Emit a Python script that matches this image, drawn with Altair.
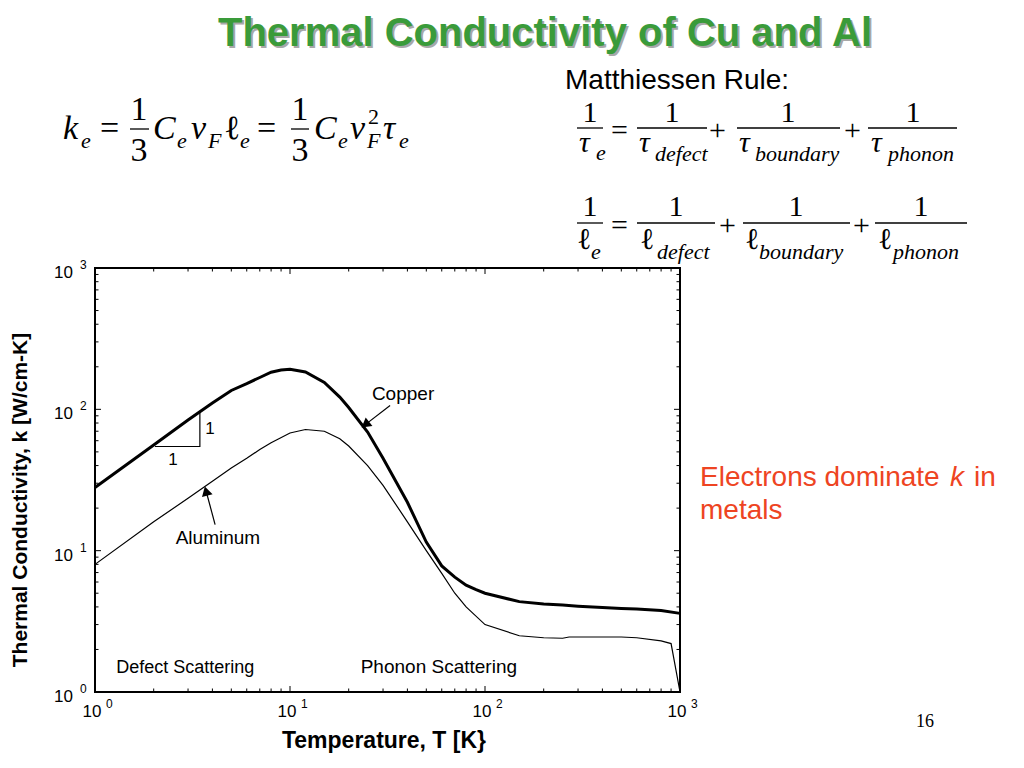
import altair as alt
import pandas as pd

# ---------------- data ----------------
T_cu = [1, 2, 3, 4, 5, 6, 7, 8, 9, 10, 12, 15, 18, 20, 25, 30, 40, 50, 60, 70, 80, 90,
        100, 150, 200, 250, 300, 400, 500, 600, 800, 1000]
k_cu = [28, 56, 84, 111, 136, 152, 168, 183, 190, 192, 184, 155, 122, 103, 69, 45, 22, 11.5,
        7.8, 6.5, 5.7, 5.3, 5.0, 4.36, 4.2, 4.12, 4.05, 3.96, 3.9, 3.87, 3.77, 3.6]

T_al = [1, 2, 3, 4, 5, 6, 7, 8, 10, 12, 15, 18, 20, 25, 30, 40, 50, 60, 70, 80, 100, 150,
        200, 250, 270, 300, 400, 500, 600, 800, 900, 1000]
k_al = [8.0, 16, 23.5, 31, 38.5, 45, 52, 58, 68, 72, 70, 62, 55, 40, 29, 16, 10, 6.9, 5.0,
        4.0, 3.0, 2.5, 2.42, 2.4, 2.45, 2.45, 2.45, 2.45, 2.42, 2.3, 2.2, 1.0]

major_vals = [1, 10, 100, 1000]
minor_vals = [m * d for d in (1, 10, 100) for m in range(2, 10)]
tick_exp = ["0", "1", "2", "3"]

# ---------------- layout helpers ----------------
W, H = 585, 424
OX, OY = 95, 268  # page position of plot origin
SERIF = "Liberation Serif"
SANS = "Liberation Sans"

xs = alt.Scale(type="log", domain=[1, 1000], nice=False)
ys = alt.Scale(type="log", domain=[1, 1000], nice=False)

blank = pd.DataFrame({"a": [0]})
layers = []


def ptext(s, x, y, size, font=SERIF, style="normal", weight="normal", color="black",
          align="left", baseline="alphabetic", angle=0):
    kw = dict(text=s, font=font, fontSize=size, fontStyle=style, fontWeight=weight,
              color=color, align=align, baseline=baseline)
    if angle:
        kw["angle"] = angle
    layers.append(alt.Chart(blank).mark_text(**kw).encode(
        x=alt.value(x - OX), y=alt.value(y - OY)))


def pbar(x1, x2, y, w=1.3):
    layers.append(alt.Chart(blank).mark_rule(color="black", strokeWidth=w).encode(
        x=alt.value(x1 - OX), x2=alt.value(x2 - OX), y=alt.value(y - OY)))


# ---------------- data lines ----------------
df_cu = pd.DataFrame({"T": T_cu, "k": k_cu})
df_al = pd.DataFrame({"T": T_al, "k": k_al})

layers.append(alt.Chart(df_cu).mark_line(color="black", strokeWidth=3).encode(
    x=alt.X("T:Q", scale=xs, axis=None), y=alt.Y("k:Q", scale=ys, axis=None)))
layers.append(alt.Chart(df_al).mark_line(color="black", strokeWidth=1.2).encode(
    x=alt.X("T:Q", scale=xs, axis=None), y=alt.Y("k:Q", scale=ys, axis=None)))

# ---------------- ticks (inside frame) ----------------
for vals, L in ((major_vals, 6), (minor_vals, 3.5)):
    d = pd.DataFrame({"v": vals})
    layers.append(alt.Chart(d).mark_rule(color="black", strokeWidth=1).encode(
        x=alt.X("v:Q", scale=xs, axis=None), y=alt.value(0), y2=alt.value(L)))
    layers.append(alt.Chart(d).mark_rule(color="black", strokeWidth=1).encode(
        x=alt.X("v:Q", scale=xs, axis=None), y=alt.value(H), y2=alt.value(H - L)))
    layers.append(alt.Chart(d).mark_rule(color="black", strokeWidth=1).encode(
        y=alt.Y("v:Q", scale=ys, axis=None), x=alt.value(0), x2=alt.value(L)))
    layers.append(alt.Chart(d).mark_rule(color="black", strokeWidth=1).encode(
        y=alt.Y("v:Q", scale=ys, axis=None), x=alt.value(W), x2=alt.value(W - L)))

# ---------------- tick labels ----------------
df_tl = pd.DataFrame({"v": major_vals, "e": tick_exp})
layers.append(alt.Chart(df_tl).mark_text(text="10", font=SANS, fontSize=17, align="center",
                                         baseline="alphabetic", dx=-3).encode(
    x=alt.X("v:Q", scale=xs, axis=None), y=alt.value(449)))
layers.append(alt.Chart(df_tl).mark_text(font=SANS, fontSize=12, align="left",
                                         baseline="alphabetic", dx=11).encode(
    x=alt.X("v:Q", scale=xs, axis=None), y=alt.value(440), text="e:N"))
layers.append(alt.Chart(df_tl).mark_text(text="10", font=SANS, fontSize=17, align="right",
                                         baseline="alphabetic", dy=10).encode(
    y=alt.Y("v:Q", scale=ys, axis=None), x=alt.value(-22)))
layers.append(alt.Chart(df_tl).mark_text(font=SANS, fontSize=12, align="left",
                                         baseline="alphabetic", dy=1).encode(
    y=alt.Y("v:Q", scale=ys, axis=None), x=alt.value(-15), text="e:N"))

# ---------------- axis titles ----------------
ptext("Thermal Conductivity, k  [W/cm-K]", 21, 500, 21, font=SANS, weight="bold",
      align="center", baseline="middle", angle=270)
ptext("Temperature, T [K}", 384, 741, 23, font=SANS, weight="bold",
      align="center", baseline="middle")

# ---------------- in-plot annotations ----------------
ann = pd.DataFrame({
    "label": ["Copper", "Aluminum", "Defect Scattering", "Phonon Scattering", "1", "1"],
    "T": [38, 4.27, 2.9, 58, 3.89, 2.51],
    "k": [128, 12.35, 1.48, 1.50, 72, 43.6],
    "size": [19, 19, 18, 19, 17, 17],
})
layers.append(alt.Chart(ann).mark_text(font=SANS, align="center", baseline="middle",
                                       color="black").encode(
    x=alt.X("T:Q", scale=xs, axis=None), y=alt.Y("k:Q", scale=ys, axis=None),
    text="label:N", size=alt.Size("size:Q", scale=None, legend=None)))

# slope-one triangle
tri = pd.DataFrame({"T": [2.03, 3.45, 3.45], "k": [54.6, 54.6, 96], "o": [0, 1, 2]})
layers.append(alt.Chart(tri).mark_line(color="black", strokeWidth=1.2).encode(
    x=alt.X("T:Q", scale=xs, axis=None), y=alt.Y("k:Q", scale=ys, axis=None), order="o:Q"))

# arrows
arr = pd.DataFrame({"id": ["cu", "cu", "al", "al"],
                    "T": [32.6, 24.7, 4.13, 3.73],
                    "k": [106.6, 79.2, 15.3, 25.8]})
layers.append(alt.Chart(arr).mark_line(color="black", strokeWidth=1.2).encode(
    x=alt.X("T:Q", scale=xs, axis=None), y=alt.Y("k:Q", scale=ys, axis=None),
    detail="id:N"))
heads = pd.DataFrame({"T": [24.7, 3.73], "k": [79.2, 25.8], "ang": [232, 345]})
layers.append(alt.Chart(heads).mark_point(shape="triangle", filled=True, color="black",
                                          opacity=1, size=120).encode(
    x=alt.X("T:Q", scale=xs, axis=None), y=alt.Y("k:Q", scale=ys, axis=None),
    angle=alt.Angle("ang:Q", scale=None)))

# ---------------- title ----------------
ptext("Thermal Conductivity of Cu and Al", 547, 48, 40, font=SANS, weight="bold",
      color="#a8a8a8", align="center")
ptext("Thermal Conductivity of Cu and Al", 545, 46, 40, font=SANS, weight="bold",
      color="#3a9b3a", align="center")

# ---------------- k_e equation ----------------
M, S = 34, 22
ptext("k", 63, 139, M, style="italic")
ptext("e", 81, 148, S, style="italic")
ptext("=", 100, 139, M)
ptext("1", 139, 120, M, align="center")
pbar(130, 149, 129)
ptext("3", 139, 161, M, align="center")
ptext("C", 153, 139, M, style="italic")
ptext("e", 177, 148, S, style="italic")
ptext("v", 191, 139, M, style="italic")
ptext("F", 208, 148, S, style="italic")
ptext("ℓ", 224, 139, M)
ptext("e", 240, 148, S, style="italic")
ptext("=", 257, 139, M)
ptext("1", 300, 120, M, align="center")
pbar(291, 309, 129)
ptext("3", 300, 161, M, align="center")
ptext("C", 314, 139, M, style="italic")
ptext("e", 338, 148, S, style="italic")
ptext("v", 350, 139, M, style="italic")
ptext("2", 368, 124, S)
ptext("F", 367, 148, S, style="italic")
ptext("τ", 383, 139, M, style="italic")
ptext("e", 399, 148, S, style="italic")

# ---------------- Matthiessen rule ----------------
ptext("Matthiessen Rule:", 565, 89, 28, font=SANS)
N, SS = 30, 22
# row 1 (tau)
ptext("1", 590, 122, N, align="center"); pbar(577, 603, 128)
ptext("τ", 579, 152, N, style="italic"); ptext("e", 596, 160, SS, style="italic")
ptext("=", 611, 140, N)
ptext("1", 672, 122, N, align="center"); pbar(637, 707, 128)
ptext("τ", 639, 152, N, style="italic"); ptext("defect", 655, 161, SS, style="italic")
ptext("+", 709, 140, N)
ptext("1", 788, 122, N, align="center"); pbar(737, 840, 128)
ptext("τ", 739, 152, N, style="italic"); ptext("boundary", 755, 161, SS, style="italic")
ptext("+", 844, 140, N)
ptext("1", 913, 122, N, align="center"); pbar(868, 957, 128)
ptext("τ", 871, 152, N, style="italic"); ptext("phonon", 888, 161, SS, style="italic")
# row 2 (mean free path)
ptext("1", 590, 216, N, align="center"); pbar(577, 603, 223)
ptext("ℓ", 577, 249, N); ptext("e", 591, 259, SS, style="italic")
ptext("=", 611, 235, N)
ptext("1", 676, 216, N, align="center"); pbar(637, 715, 223)
ptext("ℓ", 640, 249, N); ptext("defect", 657, 259, SS, style="italic")
ptext("+", 719, 235, N)
ptext("1", 796, 216, N, align="center"); pbar(743, 850, 223)
ptext("ℓ", 745, 249, N); ptext("boundary", 759, 259, SS, style="italic")
ptext("+", 853, 235, N)
ptext("1", 921, 216, N, align="center"); pbar(875, 967, 223)
ptext("ℓ", 878, 249, N); ptext("phonon", 893, 259, SS, style="italic")

# ---------------- side note ----------------
RED = "#ee4422"
ptext("Electrons dominate", 700, 486, 28, font=SANS, color=RED)
ptext("k", 950, 486, 28, font=SANS, style="italic", color=RED)
ptext("in", 974, 486, 28, font=SANS, color=RED)
ptext("metals", 700, 519, 28, font=SANS, color=RED)

# page number
ptext("16", 925, 727, 18, font=SERIF, align="center")

chart = alt.layer(*layers).properties(
    width=W, height=H,
    padding={"left": OX - 8, "top": OY - 8, "right": 330, "bottom": 68},
    autosize=alt.AutoSizeParams(type="none"),
).configure_view(stroke="black", strokeWidth=2)

chart.save("out.html", embed_options={"renderer": "svg", "actions": False})
